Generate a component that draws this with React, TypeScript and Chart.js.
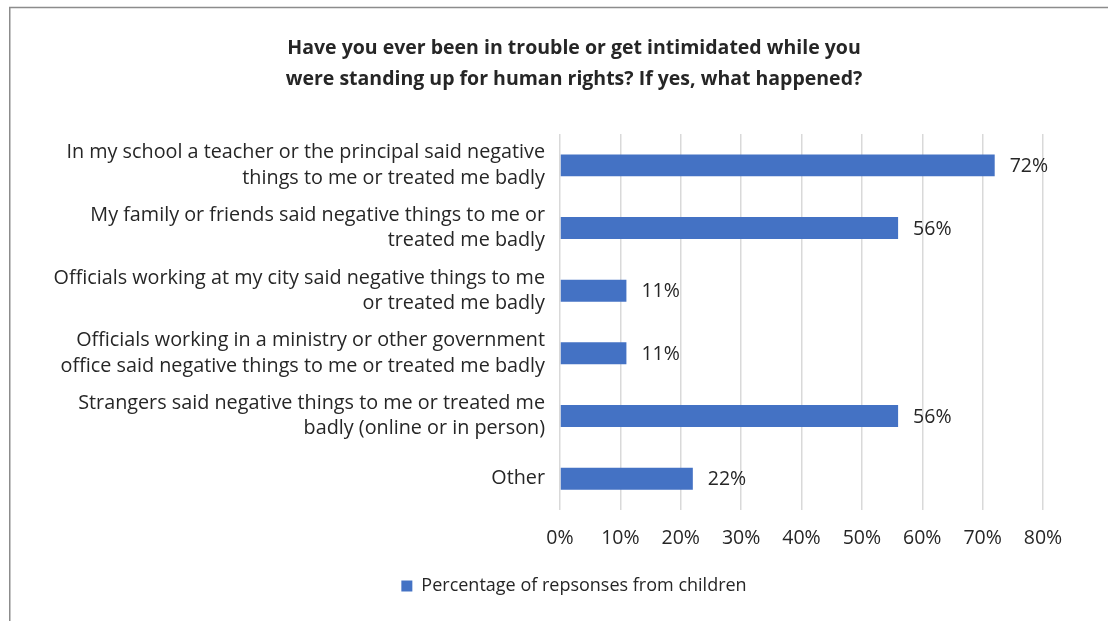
import React, { useEffect, useRef } from "react";
import { Chart, registerables } from "chart.js";

Chart.register(...registerables);

const titleLines = [
  "Have you ever been in trouble or get intimidated while you",
  "were standing up for human rights? If yes, what happened?",
];

const categories: string[][] = [
  ["In my school a teacher or the principal said negative", "things to me or treated me badly"],
  ["My family or friends said negative things to me or", "treated me badly"],
  ["Officials working at my city said negative things to me", "or treated me badly"],
  ["Officials working in a ministry or other government", "office said negative things to me or treated me badly"],
  ["Strangers said negative things to me or treated me", "badly (online or in person)"],
  ["Other"],
];

const values = [72, 56, 11, 11, 56, 22];
const seriesName = "Percentage of repsonses from children";
const xTicks = [0, 10, 20, 30, 40, 50, 60, 70, 80];

const FONT = "'Open Sans', 'Noto Sans', sans-serif";
const TEXT = "#262626";
const BLUE = "#4472C4";
const FS = 19.5;

const framePlugin = {
  id: "frame",
  beforeDraw(chart: any) {
    const { ctx, width, height } = chart;
    ctx.save();
    ctx.fillStyle = "#ffffff";
    ctx.fillRect(0, 0, width, height);
    ctx.strokeStyle = "#8c8c8c";
    ctx.lineWidth = 1.5;
    ctx.beginPath();
    ctx.moveTo(width, 7.5);
    ctx.lineTo(9.75, 7.5);
    ctx.lineTo(9.75, height);
    ctx.stroke();
    ctx.restore();
  },
};

const valueLabelPlugin = {
  id: "valueLabels",
  afterDatasetsDraw(chart: any) {
    const { ctx } = chart;
    const meta = chart.getDatasetMeta(0);
    ctx.save();
    ctx.font = `${FS}px ${FONT}`;
    ctx.fillStyle = TEXT;
    ctx.textAlign = "left";
    ctx.textBaseline = "middle";
    meta.data.forEach((bar: any, i: number) => {
      ctx.fillText(`${values[i]}%`, bar.x + 15, bar.y + 1);
    });
    ctx.restore();
  },
};

export default function App() {
  const ref = useRef<HTMLCanvasElement | null>(null);
  useEffect(() => {
    if (!ref.current) return;
    const chart = new Chart(ref.current, {
      type: "bar",
      data: {
        labels: categories,
        datasets: [
          {
            label: seriesName,
            data: values,
            backgroundColor: BLUE,
            borderWidth: 0,
            categoryPercentage: 1,
            barPercentage: 0.35,
          },
        ],
      },
      options: {
        indexAxis: "y",
        animation: false,
        responsive: false,
        maintainAspectRatio: false,
        layout: { padding: { left: 40, right: 0, top: 8, bottom: 16 } },
        plugins: {
          title: {
            display: true,
            text: titleLines,
            color: TEXT,
            font: { family: FONT, size: 19.5, weight: "bold", lineHeight: 1.59 },
            padding: { top: 24.5, bottom: 39.5 },
          },
          legend: {
            display: true,
            position: "bottom",
            labels: {
              color: TEXT,
              font: { family: FONT, size: 18 },
              boxWidth: 11,
              boxHeight: 11,
              padding: 8,
            },
          },
          tooltip: { enabled: false },
        },
        scales: {
          x: {
            min: 0,
            max: 80,
            afterBuildTicks(scale: any) {
              scale.ticks = xTicks.map((v) => ({ value: v }));
            },
            afterFit(scale: any) {
              scale.height = 59;
            },
            ticks: {
              color: TEXT,
              font: { family: FONT, size: FS },
              padding: 16.5,
              callback: (v: any) => `${v}%`,
            },
            grid: { color: "#d9d9d9", lineWidth: 1.5, drawTicks: false },
            border: { display: false },
          },
          y: {
            afterFit(scale: any) {
              scale.width = 520;
            },
            ticks: {
              color: TEXT,
              font: { family: FONT, size: 19.8, lineHeight: 1.27 },
              padding: 15,
            },
            grid: { display: false, drawTicks: false },
            border: { display: false },
          },
          yRight: {
            type: "linear",
            axis: "y",
            position: "right",
            display: true,
            ticks: { display: false },
            grid: { display: false, drawTicks: false },
            border: { display: false },
            afterFit(scale: any) {
              scale.width = 65;
            },
          },
        },
      },
      plugins: [framePlugin, valueLabelPlugin],
    });
    return () => chart.destroy();
  }, []);
  return (
    <div style={{ position: "fixed", left: 0, top: 0, width: 1108, height: 621 }}>
      <canvas ref={ref} width={1108} height={621} style={{ width: 1108, height: 621 }} />
    </div>
  );
}
